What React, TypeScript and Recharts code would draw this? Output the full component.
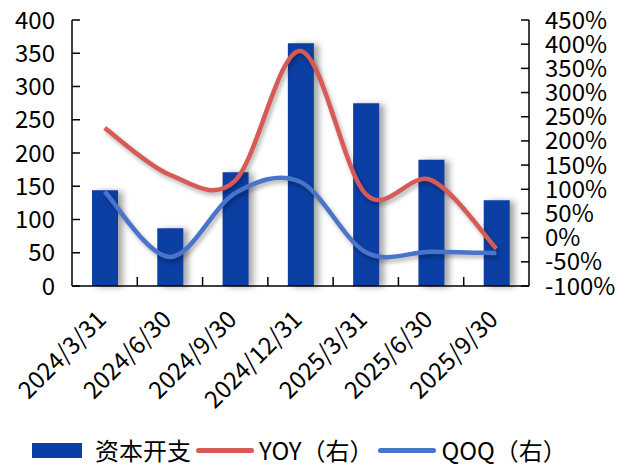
import { ComposedChart, Bar, Line, XAxis, YAxis, Legend } from 'recharts';

const categories = ['2024/3/31', '2024/6/30', '2024/9/30', '2024/12/31', '2025/3/31', '2025/6/30', '2025/9/30'];
const capex = [144, 87, 171, 365, 275, 190, 129];
const yoy = [227, 130, 118, 386, 90, 119, -23];
const qoq = [95, -40, 92, 115, -30, -29, -32];

const leftTicks = [0, 50, 100, 150, 200, 250, 300, 350, 400];
const rightTicks = [-100, -50, 0, 50, 100, 150, 200, 250, 300, 350, 400, 450];

const seriesNames = ['资本开支', 'YOY（右）', 'QOQ（右）'];

const data = categories.map((date, i) => ({
  date,
  capex: capex[i],
  yoy: yoy[i],
  qoq: qoq[i],
}));

const FONT = '"Noto Sans CJK SC", "Noto Sans", sans-serif';
const BAR_COLOR = '#0B3FA3';
const RED = '#D75A56';
const BLUE = '#4A74CC';

const W = 630;
const H = 468;
const MARGIN = { top: 20, right: 11, bottom: 0, left: 12 };
const LEFT_W = 60;
const RIGHT_W = 90;
const PLOT_W = W - MARGIN.left - MARGIN.right - LEFT_W - RIGHT_W;
const BAND = PLOT_W / categories.length;

// Excel-style smoothing (Catmull-Rom through every point)
const smoothCurve = (context: any) => {
  let pts: [number, number][] = [];
  return {
    areaStart() {},
    areaEnd() {},
    lineStart() {
      pts = [];
    },
    lineEnd() {
      const n = pts.length;
      if (!n) return;
      context.moveTo(pts[0][0], pts[0][1]);
      for (let i = 0; i < n - 1; i++) {
        const p0 = pts[Math.max(i - 1, 0)];
        const p1 = pts[i];
        const p2 = pts[i + 1];
        const p3 = pts[Math.min(i + 2, n - 1)];
        context.bezierCurveTo(
          p1[0] + (p2[0] - p0[0]) / 6,
          p1[1] + (p2[1] - p0[1]) / 6,
          p2[0] - (p3[0] - p1[0]) / 6,
          p2[1] - (p3[1] - p1[1]) / 6,
          p2[0],
          p2[1]
        );
      }
    },
    point(x: number, y: number) {
      pts.push([+x, +y]);
    },
  };
};

const XTick = (props: any) => {
  const { x, y, payload, index } = props;
  return (
    <g>
      {index < categories.length - 1 && (
        <line x1={x + BAND / 2} x2={x + BAND / 2} y1={y} y2={y - 9} stroke="#000" strokeWidth={1.5} />
      )}
      <text
        transform={`translate(${x + 3},${y + 35}) rotate(-45)`}
        textAnchor="end"
        fontSize={24}
        fontFamily={FONT}
        fill="#000"
      >
        {payload.value}
      </text>
    </g>
  );
};

const LegendContent = (props: any) => {
  const items = [...(props.payload || [])].sort(
    (a: any, b: any) => seriesNames.indexOf(a.value) - seriesNames.indexOf(b.value)
  );
  return (
    <div style={{ display: 'flex', alignItems: 'center', height: 36, paddingLeft: 32, fontFamily: FONT, fontSize: 24, color: '#000' }}>
      {items.map((item: any) => (
        <div key={item.value} style={{ display: 'flex', alignItems: 'center', marginRight: 5 }}>
          {item.type === 'rect' ? (
            <span style={{ width: 50, height: 15, background: item.color, marginRight: 13 }} />
          ) : (
            <span style={{ width: 58, height: 5, borderRadius: 3, background: item.color, marginRight: 5 }} />
          )}
          <span style={{ lineHeight: '36px' }}>{item.value}</span>
        </div>
      ))}
    </div>
  );
};

export default function App() {
  const tick = { fill: '#000', fontSize: 24, fontFamily: FONT };
  return (
    <div style={{ width: W, height: H }}>
      <style>{`
        body { margin: 0; }
        .recharts-bar-rectangle path { filter: drop-shadow(5px 1px 3px rgba(0,0,0,0.35)); }
        .recharts-line-curve { filter: drop-shadow(2px 3px 2px rgba(0,0,0,0.3)); }
      `}</style>
      <ComposedChart width={W} height={H} data={data} margin={MARGIN}>
        <XAxis
          dataKey="date"
          interval={0}
          height={146}
          tickLine={false}
          tickSize={0}
          tickMargin={0}
          axisLine={{ stroke: '#000', strokeWidth: 1.5 }}
          tick={<XTick />}
        />
        <YAxis
          yAxisId="left"
          width={LEFT_W}
          domain={[0, 400]}
          ticks={leftTicks}
          interval={0}
          tickSize={-8}
          tickMargin={25}
          axisLine={{ stroke: '#000', strokeWidth: 1.5 }}
          tickLine={{ stroke: '#000', strokeWidth: 1.5 }}
          tick={tick}
        />
        <YAxis
          yAxisId="right"
          orientation="right"
          width={RIGHT_W}
          domain={[-100, 450]}
          ticks={rightTicks}
          interval={0}
          tickSize={-8}
          tickMargin={24}
          tickFormatter={(v: number) => `${v}%`}
          axisLine={{ stroke: '#000', strokeWidth: 1.5 }}
          tickLine={{ stroke: '#000', strokeWidth: 1.5 }}
          tick={{ ...tick, textAnchor: 'start' }}
        />
        <Legend verticalAlign="bottom" wrapperStyle={{ left: 0, width: W }} content={<LegendContent />} />
        <Bar yAxisId="left" dataKey="capex" name="资本开支" fill={BAR_COLOR} barSize={26} isAnimationActive={false} />
        <Line
          yAxisId="right"
          dataKey="yoy"
          name="YOY（右）"
          type={smoothCurve as any}
          stroke={RED}
          strokeWidth={4.5}
          dot={false}
          activeDot={false}
          isAnimationActive={false}
        />
        <Line
          yAxisId="right"
          dataKey="qoq"
          name="QOQ（右）"
          type={smoothCurve as any}
          stroke={BLUE}
          strokeWidth={4.5}
          dot={false}
          activeDot={false}
          isAnimationActive={false}
        />
      </ComposedChart>
    </div>
  );
}
